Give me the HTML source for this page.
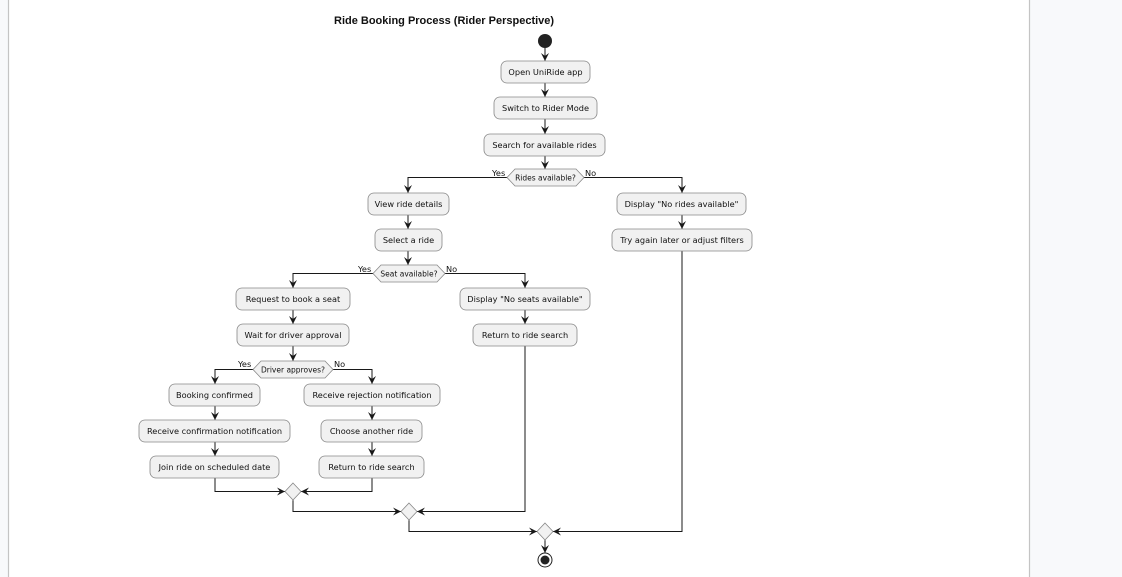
<!DOCTYPE html>
<html><head><meta charset="utf-8"><style>
html,body{margin:0;padding:0;width:1122px;height:577px;overflow:hidden;background:#f8f9fb}
svg{display:block}
text{font-family:"DejaVu Sans","Liberation Sans",sans-serif;font-size:8.2px;fill:#111}
</style></head><body>
<svg width="1122" height="577" viewBox="0 0 1122 577" xmlns="http://www.w3.org/2000/svg">
<defs><marker id="a" markerWidth="10" markerHeight="10" refX="8" refY="5" orient="auto" markerUnits="userSpaceOnUse"><path d="M0,1 L8,5 L0,9 L3,5 Z" fill="#181818"/></marker></defs>
<rect x="8" y="0" width="1022" height="577" fill="#fff"/>
<line x1="8.5" y1="0" x2="8.5" y2="577" stroke="#c4c4c4" stroke-width="1.2"/>
<line x1="1029.5" y1="0" x2="1029.5" y2="577" stroke="#c4c4c4" stroke-width="1.2"/>
<text x="334" y="24" style="font-family:'Liberation Sans',sans-serif;font-size:11px;font-weight:bold">Ride Booking Process (Rider Perspective)</text>
<g fill="none" stroke="#181818" stroke-width="1">
<line x1="545" y1="48" x2="545" y2="61" marker-end="url(#a)"/>
<line x1="545" y1="83" x2="545" y2="97" marker-end="url(#a)"/>
<line x1="545" y1="119" x2="545" y2="134" marker-end="url(#a)"/>
<line x1="545" y1="156" x2="545" y2="169" marker-end="url(#a)"/>
<polyline points="507,177.5 408,177.5 408,193" marker-end="url(#a)"/>
<polyline points="584,177.5 682,177.5 682,193" marker-end="url(#a)"/>
<line x1="682" y1="215" x2="682" y2="229" marker-end="url(#a)"/>
<polyline points="682,251 682,531.5 553,531.5" marker-end="url(#a)"/>
<line x1="408" y1="215" x2="408" y2="229" marker-end="url(#a)"/>
<line x1="408" y1="251" x2="408" y2="265" marker-end="url(#a)"/>
<polyline points="373,273.5 293,273.5 293,288" marker-end="url(#a)"/>
<polyline points="445,273.5 525,273.5 525,288" marker-end="url(#a)"/>
<line x1="525" y1="310" x2="525" y2="324" marker-end="url(#a)"/>
<polyline points="525,346 525,511.5 417,511.5" marker-end="url(#a)"/>
<line x1="293" y1="310" x2="293" y2="324" marker-end="url(#a)"/>
<line x1="293" y1="346" x2="293" y2="361" marker-end="url(#a)"/>
<polyline points="253,369.5 215,369.5 215,384" marker-end="url(#a)"/>
<polyline points="333,369.5 372,369.5 372,384" marker-end="url(#a)"/>
<line x1="215" y1="406" x2="215" y2="420" marker-end="url(#a)"/>
<line x1="215" y1="442" x2="215" y2="456" marker-end="url(#a)"/>
<line x1="372" y1="406" x2="372" y2="420" marker-end="url(#a)"/>
<line x1="372" y1="442" x2="372" y2="456" marker-end="url(#a)"/>
<polyline points="215,478 215,491.5 285,491.5" marker-end="url(#a)"/>
<polyline points="372,478 372,491.5 301,491.5" marker-end="url(#a)"/>
<polyline points="293,499 293,511.5 401,511.5" marker-end="url(#a)"/>
<polyline points="409,519 409,531.5 537,531.5" marker-end="url(#a)"/>
<line x1="545" y1="539" x2="545" y2="553" marker-end="url(#a)"/>
</g>
<circle cx="545" cy="41" r="7" fill="#222"/>
<circle cx="545" cy="560" r="7" fill="#fff" stroke="#222" stroke-width="1"/>
<circle cx="545" cy="560" r="4.5" fill="#222"/>
<g fill="#f1f1f1" stroke="#888" stroke-width="0.8">
<rect x="501" y="61" width="89" height="22" rx="6"/>
<rect x="494" y="97" width="103" height="22" rx="6"/>
<rect x="484" y="134" width="121" height="22" rx="6"/>
<rect x="368" y="193" width="81" height="22" rx="6"/>
<rect x="617" y="193" width="129" height="22" rx="6"/>
<rect x="612" y="229" width="140" height="22" rx="6"/>
<rect x="375" y="229" width="67" height="22" rx="6"/>
<rect x="236" y="288" width="114" height="22" rx="6"/>
<rect x="460" y="288" width="130" height="22" rx="6"/>
<rect x="473" y="324" width="104" height="22" rx="6"/>
<rect x="237" y="324" width="112" height="22" rx="6"/>
<rect x="169" y="384" width="91" height="22" rx="6"/>
<rect x="139" y="420" width="151" height="22" rx="6"/>
<rect x="150" y="456" width="129" height="22" rx="6"/>
<rect x="304" y="384" width="136" height="22" rx="6"/>
<rect x="321" y="420" width="101" height="22" rx="6"/>
<rect x="319" y="456" width="105" height="22" rx="6"/>
<polygon points="507,177.5 515,169 576,169 584,177.5 576,186 515,186"/>
<polygon points="373,273.5 381,265 437,265 445,273.5 437,282 381,282"/>
<polygon points="253,369.5 261,361 325,361 333,369.5 325,378 261,378"/>
<polygon points="293,483 301,491.5 293,500 285,491.5"/>
<polygon points="409,503 417,511.5 409,520 401,511.5"/>
<polygon points="545,523 553,531.5 545,540 537,531.5"/>
</g>
<g text-anchor="middle">
<text x="545.5" y="75">Open UniRide app</text>
<text x="545.5" y="111">Switch to Rider Mode</text>
<text x="544.5" y="148">Search for available rides</text>
<text x="545.5" y="180.5" style="font-size:7.5px">Rides available?</text>
<text x="408.5" y="207">View ride details</text>
<text x="681.5" y="207">Display "No rides available"</text>
<text x="682" y="243">Try again later or adjust filters</text>
<text x="408.5" y="243">Select a ride</text>
<text x="409" y="276.5" style="font-size:7.5px">Seat available?</text>
<text x="293" y="302">Request to book a seat</text>
<text x="525" y="302">Display "No seats available"</text>
<text x="525" y="338">Return to ride search</text>
<text x="293" y="338">Wait for driver approval</text>
<text x="293" y="372.5" style="font-size:7.5px">Driver approves?</text>
<text x="214.5" y="398">Booking confirmed</text>
<text x="214.5" y="434">Receive confirmation notification</text>
<text x="214.5" y="470">Join ride on scheduled date</text>
<text x="372" y="398">Receive rejection notification</text>
<text x="371.5" y="434">Choose another ride</text>
<text x="371.5" y="470">Return to ride search</text>
</g>
<g style="font-size:7.5px">
<text x="492" y="176">Yes</text><text x="585" y="176">No</text>
<text x="358" y="272">Yes</text><text x="446" y="272">No</text>
<text x="238" y="367">Yes</text><text x="334" y="367">No</text>
</g>
</svg>
</body></html>
